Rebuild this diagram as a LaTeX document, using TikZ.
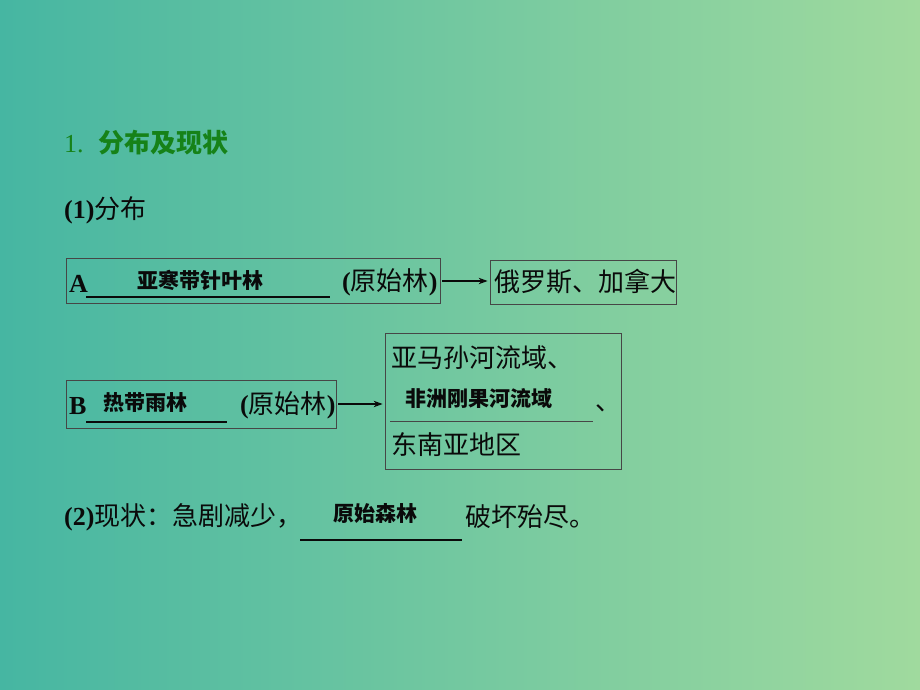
\documentclass[tikz,border=0pt]{standalone}
\usepackage{fontspec}
\setmainfont{Liberation Serif}
\newfontfamily\cjk{Noto Sans CJK SC}
\usetikzlibrary{arrows.meta}
\definecolor{bgL}{RGB}{70,182,162}
\definecolor{bgR}{RGB}{160,218,158}
\definecolor{ttl}{RGB}{22,130,24}
\definecolor{frm}{RGB}{70,70,70}
\definecolor{ink}{RGB}{10,10,10}
\begin{document}
\begin{tikzpicture}[x=1pt,y=-1pt,
  txt/.style={anchor=west,inner sep=0pt,text=ink,font=\bfseries\fontsize{26}{26}\selectfont},
  ans/.style={anchor=west,inner sep=0pt,text=ink,font=\cjk\bfseries\fontsize{21}{21}\selectfont},
  frame/.style={draw=frm,line width=0.8pt,inner sep=0pt},
  uline/.style={line width=2pt,draw=ink},
  thinline/.style={line width=0.6pt,draw=frm},
  arr/.style={-{Stealth[length=9pt,width=6.5pt]},line width=1.2pt,draw=ink,fill=ink}]
\shade[left color=bgL,right color=bgR] (0,0) rectangle (920,690);
\useasboundingbox (0,0) rectangle (920,690);

\node[txt,text=ttl,font=\fontsize{26}{26}\selectfont] (t1) at (64,143) {1.\hspace{15pt}{\cjk\bfseries 分布及现状}};
\node[txt] (s1) at (64,210) {(1){\cjk\mdseries 分布}};

% row A
\node[frame,minimum width=374pt,minimum height=45pt] (boxA) at (253,281) {};
\node[txt] (la) at (69,284) {A};
\draw[uline] (86,297) -- (330,297);
\node[ans] (aa) at (137,280) {亚寒带针叶林};
\node[txt] (pa) at (342,282) {({\cjk\mdseries 原始林})};
\node[frame,minimum width=186pt,minimum height=44pt] (boxR) at (583,282) {};
\node[txt] (ra) at (494,282) {\cjk\mdseries 俄罗斯、加拿大};
\draw[arr,shorten <=2pt,shorten >=2pt] (boxA.east) -- (boxA.east -| boxR.west);

% row B
\node[frame,minimum width=270pt,minimum height=48pt] (boxB) at (201,404) {};
\node[txt] (lb) at (69,406) {B};
\draw[uline] (86,422) -- (227,422);
\node[ans] (ab) at (103,403) {热带雨林};
\node[txt] (pb) at (240,405) {({\cjk\mdseries 原始林})};
\node[frame,minimum width=236pt,minimum height=136pt] (box3) at (503,401) {};
\node[txt] (r1) at (391,358) {\cjk\mdseries 亚马孙河流域、};
\node[ans] (r2) at (405,398) {非洲刚果河流域};
\draw[thinline] (390,421) -- (593,421);
\node[txt] (r2c) at (595,408) {\cjk\mdseries 、};
\node[txt] (r3) at (391,445) {\cjk\mdseries 东南亚地区};
\draw[arr,shorten <=2pt,shorten >=2pt] (boxB.east) -- (boxB.east -| box3.west);

% line 2
\node[txt] (s2) at (64,517) {(2){\cjk\mdseries 现状：急剧减少，}};
\draw[uline] (300,540) -- (462,540);
\node[ans] (a2) at (333,513) {原始森林};
\node[txt] (s2b) at (465,517) {\cjk\mdseries 破坏殆尽。};
\end{tikzpicture}
\end{document}
